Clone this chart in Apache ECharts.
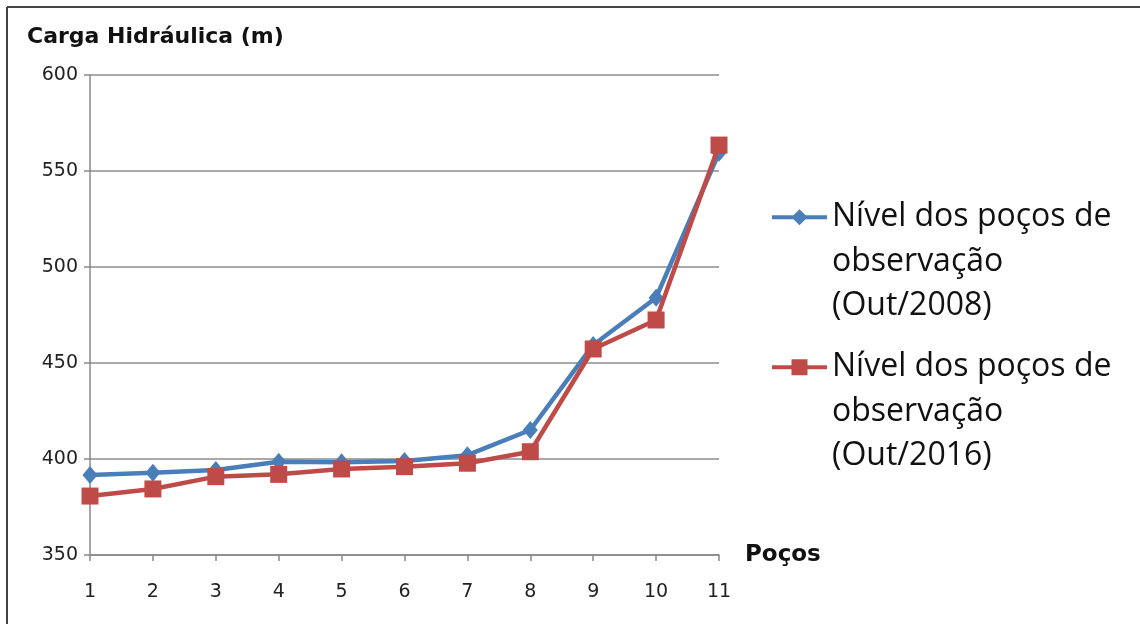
<!DOCTYPE html>
<html>
<head>
<meta charset="utf-8">
<script src="https://cdn.jsdelivr.net/npm/echarts@6/dist/echarts.min.js"></script>
<style>
html,body{margin:0;padding:0;background:#fff;}
#chart{width:1140px;height:624px;}
</style>
</head>
<body>
<div id="chart"></div>
<script>
var categories = ['1','2','3','4','5','6','7','8','9','10','11'];
var nivel2008 = [391.7, 392.9, 394.3, 398.6, 398.3, 399.0, 402.0, 415.1, 459.4, 484.0, 559.5];
var nivel2016 = [380.7, 384.4, 390.8, 392.0, 394.8, 396.0, 397.8, 403.8, 457.3, 472.4, 563.5];
var seriesNames = ['Nível dos poços de observação (Out/2008)', 'Nível dos poços de observação (Out/2016)'];
var legendLabels = ['Nível dos poços de\nobservação\n(Out/2008)', 'Nível dos poços de\nobservação\n(Out/2016)'];
var yAxisTitle = 'Carga Hidráulica (m)';
var xAxisTitle = 'Poços';

var chart = echarts.init(document.getElementById('chart'), null, {renderer: 'canvas'});
var legendText = {
  fontFamily: '"Open Sans", sans-serif',
  fontSize: 32,
  color: '#111',
  lineHeight: 44.5
};
function mkLegend(i, top) {
  return {
    data: [seriesNames[i]],
    left: 770,
    top: top,
    orient: 'vertical',
    itemWidth: 55,
    itemHeight: 20,
    itemGap: 0,
    padding: 0,
    selectedMode: false,
    lineStyle: {width: 4},
    formatter: function () { return '\n\n' + legendLabels[i]; },
    textStyle: legendText
  };
}
chart.setOption({
  animation: false,
  backgroundColor: '#fff',
  title: {
    text: yAxisTitle,
    left: 27,
    top: 26,
    padding: 0,
    textStyle: {fontFamily: '"DejaVu Sans", sans-serif', fontWeight: 'bold', fontSize: 22, color: '#111'}
  },
  legend: [mkLegend(0, 106), mkLegend(1, 256)],
  grid: {left: 90, right: 421, top: 75, bottom: 69, containLabel: false},
  xAxis: {
    type: 'category',
    data: categories,
    boundaryGap: false,
    name: xAxisTitle,
    nameLocation: 'end',
    nameGap: 26,
    nameTextStyle: {fontFamily: '"DejaVu Sans", sans-serif', fontWeight: 'bold', fontSize: 23, color: '#111', align: 'left', verticalAlign: 'middle'},
    axisLine: {lineStyle: {color: '#888', width: 1.5}},
    axisTick: {show: true, length: 6, alignWithLabel: true, lineStyle: {color: '#888', width: 1.5}},
    axisLabel: {fontFamily: '"DejaVu Sans", sans-serif', fontSize: 19, color: '#222', margin: 28},
    splitLine: {show: false}
  },
  yAxis: {
    type: 'value',
    min: 350,
    max: 600,
    interval: 50,
    axisLine: {show: true, lineStyle: {color: '#888', width: 1.5}},
    axisTick: {show: true, length: 6, lineStyle: {color: '#888', width: 1.5}},
    axisLabel: {fontFamily: '"DejaVu Sans", sans-serif', fontSize: 19, color: '#222', margin: 12},
    splitLine: {show: true, lineStyle: {color: '#8c8c8c', width: 1.5}}
  },
  graphic: [
    {type: 'line', shape: {x1: 7, y1: 7, x2: 1140, y2: 7}, style: {stroke: '#444', lineWidth: 2}},
    {type: 'line', shape: {x1: 7, y1: 7, x2: 7, y2: 624}, style: {stroke: '#444', lineWidth: 2}}
  ],
  series: [
    {
      name: seriesNames[0],
      type: 'line',
      data: nivel2008,
      symbol: 'diamond',
      symbolSize: [15, 18],
      lineStyle: {color: '#4a7ebb', width: 4.5},
      itemStyle: {color: '#4a7ebb'},
      z: 2
    },
    {
      name: seriesNames[1],
      type: 'line',
      data: nivel2016,
      symbol: 'rect',
      symbolSize: 17,
      lineStyle: {color: '#be4b48', width: 4.5},
      itemStyle: {color: '#be4b48'},
      z: 3
    }
  ]
});
</script>
</body>
</html>
